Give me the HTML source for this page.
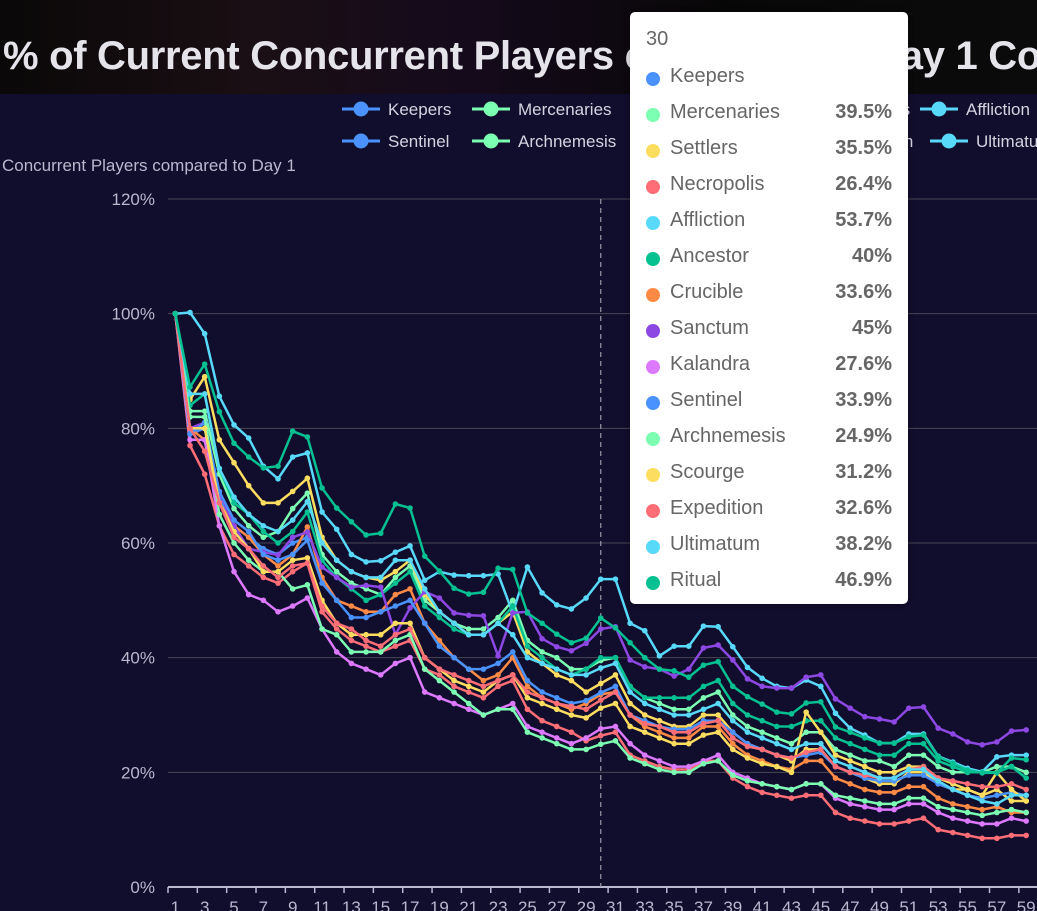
<!DOCTYPE html>
<html><head><meta charset="utf-8">
<style>
html,body{margin:0;padding:0;width:1037px;height:911px;overflow:hidden;background:#110d2c;font-family:"Liberation Sans",sans-serif}
#hdr{position:absolute;left:0;top:0;width:1037px;height:94px;overflow:hidden;background:linear-gradient(90deg,#0a0808 0%,#1a0f14 25%,#150a1c 45%,#080707 70%,#0b0b0b 100%)}
#title{position:absolute;left:3px;top:34px;font-size:40px;font-weight:bold;color:#e4e4ea;white-space:nowrap;letter-spacing:-0.3px}
#tip{position:absolute;left:630px;top:12px;width:278px;height:592px;background:#fff;border-radius:5px;box-shadow:0 0 6px rgba(0,0,0,.3);color:#666;font-size:20px}
.row{position:absolute;left:16px;width:246px;height:30px}
.dot{position:absolute;left:0;top:7px;width:14px;height:14px;border-radius:50%}
.nm{position:absolute;left:24px;top:0}
.vl{position:absolute;right:0;top:0;font-weight:bold}
</style></head><body>
<div id="hdr"><div id="title">% of Current Concurrent Players compared to Day 1 Concurrent Players</div></div>
<svg id="chart" width="1037" height="911" style="position:absolute;left:0;top:0"></svg>
<div id="tip"><div style="position:absolute;left:16px;top:16px">30</div></div>
<script>
const days = Array.from({length:59},(_,i)=>String(i+1));
const names = ["Keepers","Mercenaries","Settlers","Necropolis","Affliction","Ancestor","Crucible","Sanctum","Kalandra","Sentinel","Archnemesis","Scourge","Expedition","Ultimatum","Ritual"];
const colors = ["#4992ff","#7cffb2","#fddd60","#ff6e76","#58d9f9","#05c091","#ff8a45","#8d48e3","#dd79ff","#4992ff","#7cffb2","#fddd60","#ff6e76","#58d9f9","#05c091"];
const keepers = [100,79,80,68,63,61,59,58,60,61];
const mercenaries = [100,83,83,72,66,63,61,62,66,68.7,58,55,53,52,51,54,56,50,48,46,45,45,47,50,43,41,40,38,38,39.5,40,35,33,32,31,31,33,34,30,28,27,26,25,27,27,24,23,22,22,21,23,23,21,20,20,20,21,21,20];
const settlers = [100,85,89,78,74,70,67,67,69,71.3,61,57,55,54,53.5,55,57,51,48,46,44,44,46,48,41,39,37,36,34,35.5,37,32,30,29,28,28,30,30,27,25,24,23,22,24,24,21,20,19,18,18,20,20,18,17,17,16,17,15,15];
const necropolis = [100,77,72,63,58,56,54,53,55,56.5,48,45,43,42,41,42,43,38,37,35,34,33,35,36,31,29,28,27,25.5,26.4,27,23,22,21,20.5,20.5,22,22,19,17.5,16.5,16,15.5,16,16,13,12,11.5,11,11,11.5,12,10,9.5,9,8.5,8.5,9,9];
const affliction = [100,100.2,96.5,85.6,80.6,78.3,73.4,71.2,75,75.7,65.4,62.4,58,56.7,56.9,58.4,59.5,53.5,55,54.4,54.3,54.3,54.6,47.8,55.8,51.3,49.2,48.5,50.4,53.7,53.7,46,44.7,40.3,42,42,45.5,45.4,41.9,38.3,36.4,35,34.7,36.1,35,30.3,27.7,26.5,25.1,25.1,26.7,26.7,22.8,21.8,20.7,20.1,22.7,23,23];
const ancestor = [100,84,86,73,67,65,62,60,62,65.4,57,54,52,50,51,53,55,49,47,45,44,44,46,49,42,40,38,37,38,40,40,35,33,33,33,33,35,36,32,30,29,28,28,29,29,26,25,24,23,23,25,25,22,21,20,20,20,21,19];
const crucible = [100,80,78,67,63,61,58,56,58,62.8,54,50,49,48,48,51,52,46,43,40,38,36,37,40,35,33,32,31,32,33.6,34,30,28,27,26,26,28,28,25,23,22,21,20.5,22,22,19,18,17,16.5,16.5,17.5,17.5,15.5,14.5,14,13.5,14,13,13];
const sanctum = [100,80,81,68.9,63,59,58.4,57.9,61,61.9,55.8,54,52.3,52.6,52.3,44,48.7,51.5,50.4,47.8,47.4,47.3,40.3,47.8,48,43.3,41.9,41.2,42.5,45,45.4,39.6,38.4,38,36.8,38,41.7,42.2,39.6,36.3,35,34.7,34.7,36.6,37,32.8,31.2,29.7,29.3,28.8,31.2,31.4,27.7,26.7,25.3,24.8,25.3,27.2,27.4];
const kalandra = [100,78,78,63,55,51,50,48,49,50.4,45,41,39,38,37,39,40,34,33,32,31,30,31,32,28,27,26,25,26,27.6,28,25,23,22,21,21,22,23,20,19,18,17.5,17,18,18,15.5,14.5,14,13.5,13.5,14.5,14.5,13,12,11.5,11,11,12,11.5];
const sentinel = [100,79,81,69,64,62,58,57,58,60.5,53,50,47,47,48,49,50,46,42,40,38,38,39,41,36,34,33,32,32.5,33.9,35,30,29,28,27.5,27.5,29,29,27,25,24,23,22.5,23,23.5,21,20,19,18.5,18.5,19.5,19.5,18,17,16,15.5,16,16.5,16];
const archnemesis = [100,82,82,65,60,57,55,55,52,52.7,45,44,41,41,41,43,44,38,36,34,32,30,31,31,27,26,25,24,24,24.9,25.5,22.5,21.5,20.5,20,20,21.5,22,19.5,18.5,18,17.5,17,18,18,16,15.5,15,14.5,14.5,15.5,15.5,14,13.5,13,12.5,13,13.5,13];
const scourge = [100,80,80,67,62,59,55,55,57,57.4,50,46,44,44,44,46,46,40,38,36,35,34,36,37,33,32,31,30,29.5,31.2,32,28,27,26,25,25,26.5,27,24,22.5,21.5,21,20,30.5,27,23,22,21,20,20,21,21,19,18,17,16,20,17,15];
const expedition = [100,80,76,67,61,59,56,54,56,56.5,49,46,45,43,42,44,45,40,38,37,36,35,36,37,34,33,32,31.5,31,32.6,34,30,28.5,28,27,27,28.5,29,26,24.5,24,23,22.5,23.5,24,21,20,19.5,19,19,20.5,21,19,18.5,18,17.5,17.5,18,17];
const ultimatum = [100,86,86,73,68,65,63,62,64,67.2,60,57,55,54,54,57,57,52,48,46,44,44,46,44,40,39,38,37,37,38.2,39,34,32,31,30,30,31,32,29,27,26,25,24,25,25,22,21,20,19,19,20.5,20.5,18.5,17,16,15,14.5,16,16];
const ritual = [100,87.2,91.2,82.9,77.4,75,73.1,73.4,79.5,78.5,69.6,66.1,63.7,61.4,61.7,66.8,66.1,57.7,55.1,52.1,51.1,51.4,55.6,55.4,47.8,46,44.1,42.6,43.4,46.9,45.2,42.6,40,38,37.7,36.6,38.7,39.3,35,33.2,31.9,30.5,30.2,32.1,32.3,27.9,27,26,25.1,25.1,26.2,26.5,22.7,21.6,20.4,19.9,19.9,22.5,22.2];
const series = [keepers,mercenaries,settlers,necropolis,affliction,ancestor,crucible,sanctum,kalandra,sentinel,archnemesis,scourge,expedition,ultimatum,ritual];
const yTicks = [0,20,40,60,80,100,120];
const hoverDay = 30;

const NS="http://www.w3.org/2000/svg";
const svg=document.getElementById('chart');
const X0=168, BW=14.67, Y0=887, YT=199, YMAX=120;
const xs=i=>X0+(i+0.5)*BW;
const ys=v=>Y0-(v/YMAX)*(Y0-YT);
function mk(t,a){const e=document.createElementNS(NS,t);for(const k in a)e.setAttribute(k,a[k]);svg.appendChild(e);return e;}
function tx(x,y,s,anchor,size,fill){const e=mk('text',{x:x,y:y,'text-anchor':anchor,'font-size':size,fill:fill,'font-family':'Liberation Sans, sans-serif'});e.textContent=s;return e;}

yTicks.forEach(v=>{
  const g=mk('line',{x1:X0,x2:1037,y1:ys(v),y2:ys(v),stroke:v===0?'#b9b8ce':'#484753','stroke-width':v===0?2:1});
  
  
  const t=tx(155,ys(v)+6,v+'%','end',17,'#b9b8ce');
  
  
});
const yt=tx(2,171,'Concurrent Players compared to Day 1','start',17,'#b9b8ce');



days.forEach((d,i)=>{
  if(i%2===0){
    const tk=mk('line',{x1:X0+i*BW,x2:X0+i*BW,y1:Y0,y2:Y0+6,stroke:'#b9b8ce','stroke-width':1.5});
    
    
    const t=tx(xs(i),Y0+26,d,'middle',17,'#b9b8ce');
    
    
  }
});

const vl=mk('line',{x1:xs(hoverDay-1),x2:xs(hoverDay-1),y1:YT,y2:Y0,stroke:'#9a99a8','stroke-width':1.2,'stroke-dasharray':'5,4'});



series.forEach((arr,si)=>{
  const pts=arr.map((v,i)=>xs(i).toFixed(1)+','+ys(v).toFixed(1)).join(' ');
  const pl=mk('polyline',{points:pts,fill:'none',stroke:colors[si],'stroke-width':2.5,'stroke-linejoin':'round'});
  
  
  arr.forEach((v,i)=>{
    const c=mk('circle',{cx:xs(i),cy:ys(v),r:2.8,fill:colors[si]});
    
    
  });
});

const legend=[[342,109,0],[472,109,1],[636,109,2],[784,109,3],[920,109,4],[342,141,9],[472,141,10],[636,141,11],[788,141,12],[930,141,13]];
legend.forEach(([x,y,si])=>{
  const l=mk('line',{x1:x,x2:x+38,y1:y,y2:y,stroke:colors[si],'stroke-width':3});
  
  
  const c=mk('circle',{cx:x+19,cy:y,r:7.5,fill:colors[si]});
  
  
  const t=tx(x+46,y+6,names[si],'start',17,'#d4d3e0');
  
  
});

const tip=document.getElementById('tip');
names.forEach((n,si)=>{
  const r=document.createElement('div');r.className='row';r.style.top=(53+36*si)+'px';
  
  
  const v=series[si][hoverDay-1];
  r.innerHTML='<span class="dot" style="background:'+colors[si]+'"></span><span class="nm">'+n+'</span>'+(v!==undefined?'<span class="vl">'+v+'%</span>':'');
  tip.appendChild(r);
});
</script>
</body></html>
